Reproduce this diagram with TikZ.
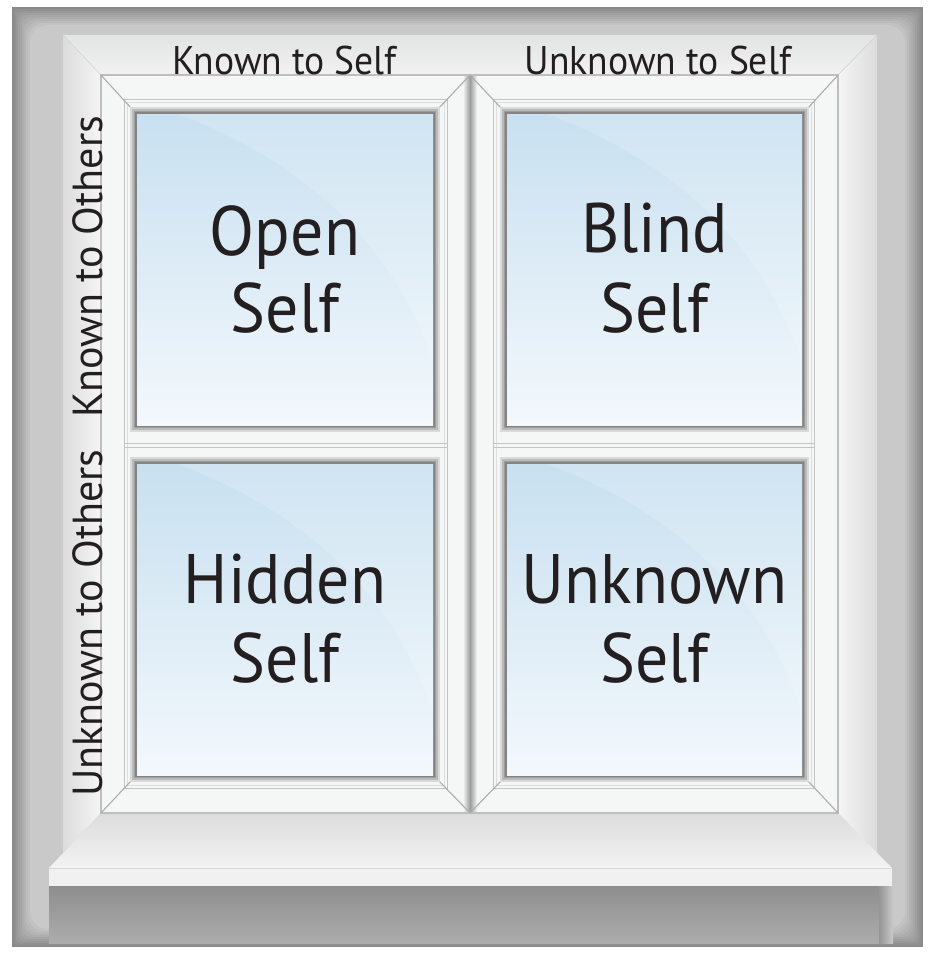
\documentclass[tikz,border=0pt]{standalone}
\usepackage{fontspec}
\setmainfont{PT Sans}
\newfontfamily\smallfnt[FakeStretch=0.94]{PT Sans}
\newfontfamily\sidefnt[FakeStretch=1.0]{PT Sans}
\newfontfamily\bigfnt[FakeStretch=0.94]{PT Sans}
\definecolor{ink}{HTML}{231F20}
\definecolor{wallMid}{HTML}{C9C9C9}
\definecolor{wallDark}{HTML}{8A8A8A}
\definecolor{frameW}{HTML}{F5F6F6}
\definecolor{bevel}{HTML}{C4C4C4}
\definecolor{bevelL}{HTML}{DEDEDE}
\definecolor{miter}{HTML}{ADADAD}
\definecolor{glassTop}{RGB}{200,224,240}
\definecolor{glassBot}{RGB}{243,248,252}
\definecolor{stripTop}{RGB}{226,227,227}
\definecolor{stripBot}{RGB}{242,242,242}
\definecolor{sideDark}{RGB}{220,220,220}
\definecolor{sideLight}{RGB}{245,245,245}
\definecolor{seam}{RGB}{210,210,210}
\definecolor{shadowTop}{RGB}{142,142,142}
\definecolor{shadowBot}{RGB}{172,172,172}
\definecolor{shadowEdge}{RGB}{150,150,150}
\definecolor{sillTop}{RGB}{220,220,220}
\definecolor{sillBot}{RGB}{243,243,243}
\definecolor{sillFront}{RGB}{241,241,241}
\definecolor{sillLine}{RGB}{216,216,216}
\definecolor{mullion}{RGB}{156,156,156}
\definecolor{frameLine}{RGB}{190,190,190}
\definecolor{rimA}{RGB}{218,218,218}
\definecolor{rimB}{RGB}{186,186,186}
\definecolor{rimC}{RGB}{156,156,156}
\definecolor{rimD}{RGB}{132,132,132}
\tikzset{
  lbl/.style={font=\smallfnt\fontsize{40}{48}\selectfont, text=ink, inner sep=0pt, anchor=base},
  sidelbl/.style={font=\sidefnt\fontsize{42}{48}\selectfont, text=ink, inner sep=0pt, anchor=base, rotate=90},
  big/.style={font=\bigfnt\fontsize{70}{77}\selectfont, text=ink, inner sep=0pt, anchor=base},
  bevline/.style={draw=bevel, line width=0.9pt},
  bevlight/.style={draw=bevelL, line width=0.8pt},
  miterline/.style={draw=miter, line width=1.1pt},
}
\begin{document}
\begin{tikzpicture}[x=1pt,y=-1pt]
\useasboundingbox (0,0) rectangle (928,954);
\fill[white] (0,0) rectangle (928,954);
% wall with inner shadow
\fill[wallDark] (12,7) rectangle (923,947);
\foreach \i in {1,...,9}{
  \pgfmathsetmacro\p{\i*100/9}
  \fill[wallMid!\p!wallDark, rounded corners=\i*2pt] (12+2*\i,7+2*\i) rectangle (923-2*\i,947-2*\i);
}
% recess strips
\shade[top color=stripTop, bottom color=stripBot]
  (63,35) -- (877,35) -- (838,75) -- (101,75) -- cycle;
\shade[left color=sideDark, right color=sideLight]
  (63,35) -- (101,75) -- (101,813) -- (63,853) -- cycle;
\shade[left color=sideLight, right color=sideDark]
  (877,35) -- (838,75) -- (838,813) -- (877,853) -- cycle;
\draw[seam, line width=0.6pt] (63,35) -- (101,75);
\draw[seam, line width=0.6pt] (877,35) -- (838,75);
% sill shadow
\shade[top color=shadowTop, bottom color=shadowBot] (49,886) rectangle (880,943);
\shade[left color=shadowEdge, right color=wallMid] (879,886) rectangle (893,943);
% sill
\shade[top color=sillTop, bottom color=sillBot]
  (101,813) -- (838,813) -- (892,868) -- (49,868) -- cycle;
\fill[sillFront] (49,868) rectangle (892,886);
\draw[sillLine, line width=1.5pt] (49,868.5) -- (892,868.5);
% sashes
\fill[frameW] (101,75) rectangle (838,813);
% bevel lines left sash
\draw[bevline] (124.5,99.5) rectangle (447,788.5);
\draw[bevlight] (127.5,102.5) rectangle (444,785.5);
\draw[bevline] (124.5,443) -- (447,443);
\draw[bevline] (124.5,447) -- (447,447);
% bevel lines right sash
\draw[bevline] (493,99.5) rectangle (814.5,788.5);
\draw[bevlight] (496,102.5) rectangle (811.5,785.5);
\draw[bevline] (493,443) -- (814.5,443);
\draw[bevline] (493,447) -- (814.5,447);
% mullion shadow
\shade[left color=frameW, right color=frameW, middle color=mullion] (463,75) rectangle (477,813);
% frame outline
\draw[frameLine, line width=1.2pt] (101,75) rectangle (838,813);
% miters
\draw[miterline] (101,75) -- (131,108);
\draw[miterline] (470,75) -- (439,108);
\draw[miterline] (470,75) -- (501,108);
\draw[miterline] (838,75) -- (808,108);
\draw[miterline] (101,813) -- (131,781);
\draw[miterline] (470,813) -- (439,781);
\draw[miterline] (470,813) -- (501,781);
\draw[miterline] (838,813) -- (808,781);
% glass panes
\foreach \xa/\ya/\xb/\yb in {137/114/433/425, 137/464/433/775, 507/114/802/425, 507/464/802/775}{
  \fill[rimA] (\xa-7,\ya-7) rectangle (\xb+7,\yb+7);
  \fill[rimB] (\xa-5,\ya-5) rectangle (\xb+5,\yb+5);
  \fill[rimC] (\xa-3.2,\ya-3.2) rectangle (\xb+3.2,\yb+3.2);
  \fill[rimD] (\xa-1.6,\ya-1.6) rectangle (\xb+1.6,\yb+1.6);
  \shade[top color=glassTop, bottom color=glassBot] (\xa,\ya) rectangle (\xb,\yb);
  \fill[white, opacity=0.16] (\xa+40,\ya) .. controls (\xa+150,\ya+40) and (\xb-40,\ya+120) .. (\xb,\ya+250) -- (\xb,\ya) -- cycle;
}
% labels
\node[lbl] (kself) at (284.5,74) {Known to Self};
\node[lbl] (uself) at (658,74) {Unknown to Self};
\node[sidelbl] (kothers) at (102,266.5) {Known to Others};
\node[sidelbl] (uothers) at (102,623) {Unknown to Others};
\node[big] (openA) at (285,255) {Open};
\node[big] (openB) at (285,332) {Self};
\node[big] (blindA) at (654.5,252) {Blind};
\node[big] (blindB) at (654.5,332) {Self};
\node[big] (hiddenA) at (285,603) {Hidden};
\node[big] (hiddenB) at (285,682) {Self};
\node[big] (unknownA) at (654.5,603) {Unknown};
\node[big] (unknownB) at (654.5,682) {Self};
\end{tikzpicture}
\end{document}
